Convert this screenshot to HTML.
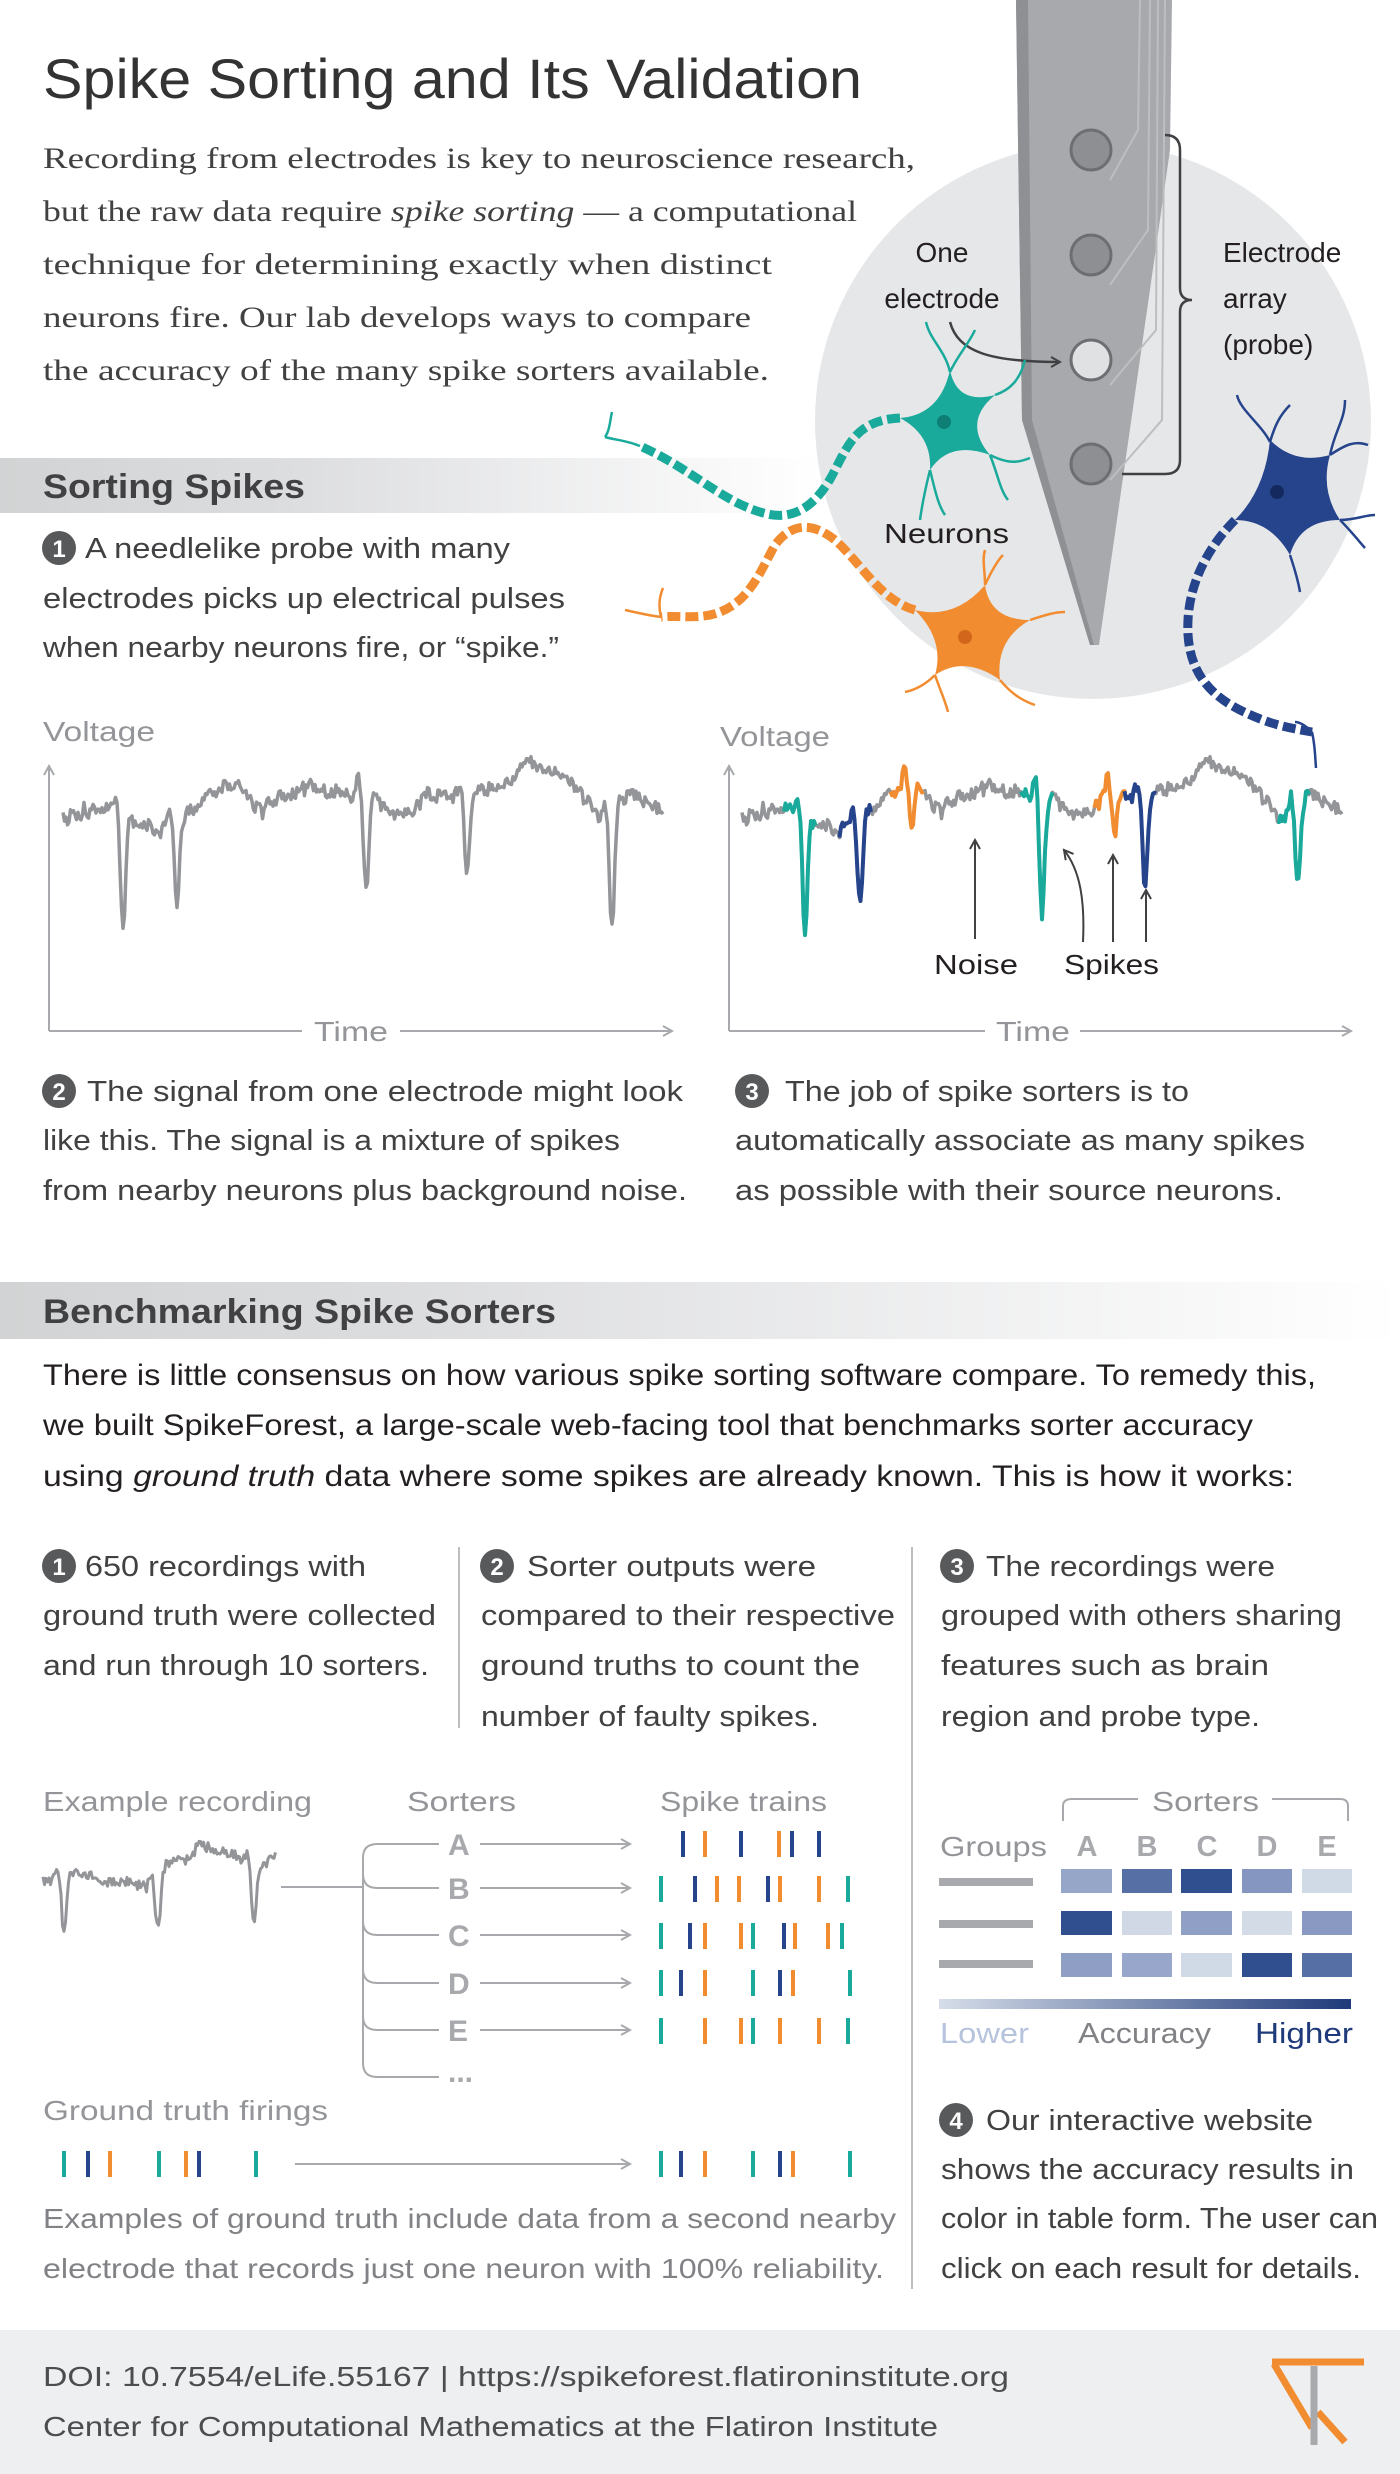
<!DOCTYPE html>
<html><head><meta charset="utf-8"><style>
html,body{margin:0;padding:0;background:#fff}
svg{display:block}
text{font-family:"Liberation Sans",sans-serif}
.s{font-family:"Liberation Serif",serif;fill:#414042;font-size:30px}
.b{fill:#414042;font-size:29px}
.g{fill:#939598;font-size:28px}
.k{fill:#231f20;font-size:28px}
.n{fill:#fff;font-size:24px;font-weight:bold;text-anchor:middle}
</style></head><body>
<svg id="sv" width="1400" height="2474" viewBox="0 0 1400 2474" xmlns="http://www.w3.org/2000/svg">
<defs>
<linearGradient id="band" x1="0" x2="1"><stop offset="0" stop-color="#d1d3d4"/><stop offset="0.35" stop-color="#dcdddf"/><stop offset="1" stop-color="#fff"/></linearGradient>
<linearGradient id="band2" x1="0" x2="1"><stop offset="0" stop-color="#d1d3d4"/><stop offset="0.3" stop-color="#dcdddf"/><stop offset="1" stop-color="#fff"/></linearGradient>
<linearGradient id="acc" x1="0" x2="1"><stop offset="0" stop-color="#d6dde9"/><stop offset="1" stop-color="#1f3a7a"/></linearGradient>
<marker id="ah" markerWidth="12" markerHeight="12" refX="10" refY="6" orient="auto" markerUnits="userSpaceOnUse"><path d="M1,1 L10,6 L1,11" fill="none" stroke="#a7a9ac" stroke-width="2"/></marker>
<marker id="ahd" markerWidth="12" markerHeight="12" refX="10" refY="6" orient="auto" markerUnits="userSpaceOnUse"><path d="M1,1 L10,6 L1,11" fill="none" stroke="#414042" stroke-width="2"/></marker>
</defs>

<!-- Sorting spikes band (behind neurons) -->
<rect x="0" y="458" width="820" height="55" fill="url(#band)"/>

<!-- circle background -->
<circle cx="1093" cy="421" r="278" fill="#e6e7e8"/>

<!-- probe -->
<polygon points="1016,0 1172,0 1170,150 1099,645 1090,645 1022,420" fill="#a7a9ac"/>
<polygon points="1016,0 1028,0 1032,420 1094,645 1090,645 1022,420" fill="#8e9093"/>
<path d="M1140,0 L1138,130 L1110,180 M1150,0 L1148,230 L1110,285 M1158,0 L1156,330 L1110,385 M1165,0 L1162,420 L1110,480" fill="none" stroke="#bcbec0" stroke-width="2"/>
<circle cx="1091" cy="150" r="20" fill="#8d8f92" stroke="#6d6e71" stroke-width="3"/>
<circle cx="1091" cy="255" r="20" fill="#8d8f92" stroke="#6d6e71" stroke-width="3"/>
<circle cx="1091" cy="360" r="20" fill="#e0e1e2" stroke="#6d6e71" stroke-width="3"/>
<circle cx="1091" cy="464" r="20" fill="#8d8f92" stroke="#6d6e71" stroke-width="3"/>
<!-- bracket -->
<path d="M1165,135 Q1180,135 1180,150 L1180,288 Q1180,300 1192,300 Q1180,300 1180,312 L1180,460 Q1180,474 1165,474 L1122,474" fill="none" stroke="#414042" stroke-width="2.5"/>
<path d="M950,322 C958,352 990,362 1060,362" fill="none" stroke="#414042" stroke-width="2.5" marker-end="url(#ahd)"/>
<text class="k" x="942" y="262" text-anchor="middle">One</text>
<text class="k" x="942" y="308" text-anchor="middle">electrode</text>
<text class="k" x="1223" y="262">Electrode</text>
<text class="k" x="1223" y="308">array</text>
<text class="k" x="1223" y="354">(probe)</text>
<text class="k" x="884" y="543" textLength="125" lengthAdjust="spacingAndGlyphs">Neurons</text>

<!-- teal neuron -->
<path d="M900,418 C860,420 850,440 835,470 C815,510 790,522 760,512 C720,500 690,468 640,446" fill="none" stroke="#1aaa9b" stroke-width="9" stroke-dasharray="13 5"/>
<path d="M640,446 C625,440 615,440 605,437 M605,437 C610,430 610,420 612,412" fill="none" stroke="#1aaa9b" stroke-width="2.5"/>
<path d="M900,418 Q940,415 950,370 Q957,405 995,395 Q962,422 990,455 Q950,440 930,470 Q932,435 900,418 Z" fill="#1aaa9b"/>
<circle cx="944" cy="422" r="7" fill="#0d7f74"/>
<path d="M950,372 C945,350 930,340 926,322 M950,372 C958,355 968,345 975,330 M995,395 C1010,390 1020,380 1025,360 M990,455 C1010,465 1020,462 1030,458 M990,455 C998,475 1000,490 1008,500 M930,470 C925,490 922,505 920,520 M930,470 C935,490 938,505 945,515" fill="none" stroke="#1aaa9b" stroke-width="2.5"/>

<!-- orange neuron -->
<path d="M915,610 C880,600 860,562 835,540 C810,520 790,525 775,545 C760,572 750,600 720,612 C700,620 680,615 661,617" fill="none" stroke="#f28c30" stroke-width="9" stroke-dasharray="13 5"/>
<path d="M661,617 C645,615 635,612 625,610 M661,617 C658,605 660,595 663,588" fill="none" stroke="#f28c30" stroke-width="2.5"/>
<path d="M915,610 Q955,620 985,585 Q990,620 1030,620 Q995,640 1000,680 Q965,655 935,675 Q945,640 915,610 Z" fill="#f28c30"/>
<circle cx="965" cy="637" r="7" fill="#d2661a"/>
<path d="M985,585 C985,570 982,560 985,550 M985,585 C992,570 998,560 1003,555 M1030,620 C1045,615 1055,612 1065,612 M1000,680 C1010,692 1020,700 1035,705 M935,675 C925,685 915,690 905,692 M935,675 C940,690 945,700 948,712" fill="none" stroke="#f28c30" stroke-width="2.5"/>

<!-- navy neuron -->
<path d="M1235,520 C1210,545 1190,580 1188,620 C1186,660 1200,690 1240,710 C1270,725 1290,728 1312,732" fill="none" stroke="#26448c" stroke-width="9" stroke-dasharray="13 5"/>
<path d="M1312,732 C1315,745 1315,755 1316,768 M1312,732 C1305,725 1300,722 1295,722" fill="none" stroke="#26448c" stroke-width="2.5"/>
<path d="M1235,520 Q1265,490 1270,440 Q1295,465 1330,455 Q1320,490 1340,520 Q1300,520 1290,555 Q1270,520 1235,520 Z" fill="#26448c"/>
<circle cx="1277" cy="492" r="7" fill="#142a5e"/>
<path d="M1270,442 C1262,425 1240,410 1237,395 M1270,442 C1275,425 1280,415 1290,405 M1330,455 C1335,430 1345,420 1345,400 M1330,455 C1345,445 1355,440 1368,445 M1340,520 C1355,520 1365,515 1375,515 M1340,520 C1350,530 1358,540 1365,548 M1290,555 C1295,570 1298,580 1300,592" fill="none" stroke="#26448c" stroke-width="2.5"/>

<!-- title -->
<text x="43" y="98" font-size="56" fill="#333" textLength="819" lengthAdjust="spacingAndGlyphs">Spike Sorting and Its Validation</text>
<text class="s" x="43" y="168" textLength="872" lengthAdjust="spacingAndGlyphs">Recording from electrodes is key to neuroscience research,</text>
<text class="s" x="43" y="221" textLength="814" lengthAdjust="spacingAndGlyphs">but the raw data require <tspan font-style="italic">spike sorting</tspan> — a computational</text>
<text class="s" x="43" y="274" textLength="729" lengthAdjust="spacingAndGlyphs">technique for determining exactly when distinct</text>
<text class="s" x="43" y="327" textLength="708" lengthAdjust="spacingAndGlyphs">neurons fire. Our lab develops ways to compare</text>
<text class="s" x="43" y="380" textLength="726" lengthAdjust="spacingAndGlyphs">the accuracy of the many spike sorters available.</text>

<text x="43" y="498" font-size="34" font-weight="bold" fill="#414042" textLength="262" lengthAdjust="spacingAndGlyphs">Sorting Spikes</text>
<circle cx="59" cy="548" r="17" fill="#58595b"/><text class="n" x="59" y="557">1</text>
<text class="b" x="85" y="558" textLength="425" lengthAdjust="spacingAndGlyphs">A needlelike probe with many</text>
<text class="b" x="43" y="608" textLength="522" lengthAdjust="spacingAndGlyphs">electrodes picks up electrical pulses</text>
<text class="b" x="43" y="657" textLength="516" lengthAdjust="spacingAndGlyphs">when nearby neurons fire, or “spike.”</text>

<!-- charts -->
<text class="g" x="43" y="741" textLength="112" lengthAdjust="spacingAndGlyphs">Voltage</text>
<text class="g" x="720" y="746" textLength="110" lengthAdjust="spacingAndGlyphs">Voltage</text>
<g fill="none" stroke="#a7a9ac" stroke-width="2">
<path d="M49,1031 L49,766" marker-end="url(#ah)"/>
<path d="M49,1031 L302,1031"/><path d="M400,1031 L672,1031" marker-end="url(#ah)"/>
<path d="M729,1031 L729,766" marker-end="url(#ah)"/>
<path d="M729,1031 L985,1031"/><path d="M1080,1031 L1351,1031" marker-end="url(#ah)"/>
</g>
<text class="g" x="314" y="1041" textLength="74" lengthAdjust="spacingAndGlyphs">Time</text>
<text class="g" x="996" y="1041" textLength="74" lengthAdjust="spacingAndGlyphs">Time</text>
<g id="sig"></g>
<g fill="none" stroke="#414042" stroke-width="2">
<path d="M975,939 L975,840" marker-end="url(#ahd)"/>
<path d="M1083,942 C1085,900 1080,870 1064,850" marker-end="url(#ahd)"/>
<path d="M1113,942 L1113,855" marker-end="url(#ahd)"/>
<path d="M1146,942 L1146,890" marker-end="url(#ahd)"/>
</g>
<text class="k" x="934" y="974" textLength="84" lengthAdjust="spacingAndGlyphs">Noise</text>
<text class="k" x="1064" y="974" textLength="95" lengthAdjust="spacingAndGlyphs">Spikes</text>

<circle cx="59" cy="1091" r="17" fill="#58595b"/><text class="n" x="59" y="1100">2</text>
<text class="b" x="87" y="1101" textLength="596" lengthAdjust="spacingAndGlyphs">The signal from one electrode might look</text>
<text class="b" x="43" y="1150" textLength="577" lengthAdjust="spacingAndGlyphs">like this. The signal is a mixture of spikes</text>
<text class="b" x="43" y="1200" textLength="644" lengthAdjust="spacingAndGlyphs">from nearby neurons plus background noise.</text>
<circle cx="752" cy="1091" r="17" fill="#58595b"/><text class="n" x="752" y="1100">3</text>
<text class="b" x="785" y="1101" textLength="404" lengthAdjust="spacingAndGlyphs">The job of spike sorters is to</text>
<text class="b" x="735" y="1150" textLength="570" lengthAdjust="spacingAndGlyphs">automatically associate as many spikes</text>
<text class="b" x="735" y="1200" textLength="548" lengthAdjust="spacingAndGlyphs">as possible with their source neurons.</text>

<!-- Benchmarking -->
<rect x="0" y="1282" width="1400" height="57" fill="url(#band2)"/>
<text x="43" y="1323" font-size="34" font-weight="bold" fill="#414042" textLength="513" lengthAdjust="spacingAndGlyphs">Benchmarking Spike Sorters</text>
<text x="43" y="1385" font-size="30" fill="#231f20" textLength="1273" lengthAdjust="spacingAndGlyphs">There is little consensus on how various spike sorting software compare. To remedy this,</text>
<text x="43" y="1435" font-size="30" fill="#231f20" textLength="1210" lengthAdjust="spacingAndGlyphs">we built SpikeForest, a large-scale web-facing tool that benchmarks sorter accuracy</text>
<text x="43" y="1486" font-size="30" fill="#231f20" textLength="1251" lengthAdjust="spacingAndGlyphs">using <tspan font-style="italic">ground truth</tspan> data where some spikes are already known. This is how it works:</text>

<line x1="459" y1="1547" x2="459" y2="1728" stroke="#bcbec0" stroke-width="2"/>
<line x1="912" y1="1547" x2="912" y2="2289" stroke="#bcbec0" stroke-width="2"/>

<circle cx="59" cy="1566" r="17" fill="#58595b"/><text class="n" x="59" y="1575">1</text>
<text class="b" x="85" y="1576" textLength="281" lengthAdjust="spacingAndGlyphs">650 recordings with</text>
<text class="b" x="43" y="1625" textLength="393" lengthAdjust="spacingAndGlyphs">ground truth were collected</text>
<text class="b" x="43" y="1675" textLength="386" lengthAdjust="spacingAndGlyphs">and run through 10 sorters.</text>
<circle cx="497" cy="1566" r="17" fill="#58595b"/><text class="n" x="497" y="1575">2</text>
<text class="b" x="527" y="1576" textLength="289" lengthAdjust="spacingAndGlyphs">Sorter outputs were</text>
<text class="b" x="481" y="1625" textLength="414" lengthAdjust="spacingAndGlyphs">compared to their respective</text>
<text class="b" x="481" y="1675" textLength="379" lengthAdjust="spacingAndGlyphs">ground truths to count the</text>
<text class="b" x="481" y="1726" textLength="338" lengthAdjust="spacingAndGlyphs">number of faulty spikes.</text>
<circle cx="957" cy="1566" r="17" fill="#58595b"/><text class="n" x="957" y="1575">3</text>
<text class="b" x="986" y="1576" textLength="289" lengthAdjust="spacingAndGlyphs">The recordings were</text>
<text class="b" x="941" y="1625" textLength="401" lengthAdjust="spacingAndGlyphs">grouped with others sharing</text>
<text class="b" x="941" y="1675" textLength="328" lengthAdjust="spacingAndGlyphs">features such as brain</text>
<text class="b" x="941" y="1726" textLength="319" lengthAdjust="spacingAndGlyphs">region and probe type.</text>

<!-- diagram -->
<text class="g" x="43" y="1811" textLength="269" lengthAdjust="spacingAndGlyphs">Example recording</text>
<text class="g" x="407" y="1811" textLength="109" lengthAdjust="spacingAndGlyphs">Sorters</text>
<text class="g" x="660" y="1811" textLength="167" lengthAdjust="spacingAndGlyphs">Spike trains</text>
<g fill="none" stroke="#a7a9ac" stroke-width="2">
<path d="M281,1887 L363,1887"/>
<path d="M363,1858 L363,2063"/>
<path d="M363,1858 Q363,1844 377,1844 L439,1844"/>
<path d="M363,1874 Q363,1888 377,1888 L439,1888"/>
<path d="M363,1921 Q363,1935 377,1935 L439,1935"/>
<path d="M363,1969 Q363,1983 377,1983 L439,1983"/>
<path d="M363,2016 Q363,2030 377,2030 L439,2030"/>
<path d="M363,2063 Q363,2077 377,2077 L439,2077"/>
<path d="M480,1844 L630,1844" marker-end="url(#ah)"/>
<path d="M480,1888 L630,1888" marker-end="url(#ah)"/>
<path d="M480,1935 L630,1935" marker-end="url(#ah)"/>
<path d="M480,1983 L630,1983" marker-end="url(#ah)"/>
<path d="M480,2030 L630,2030" marker-end="url(#ah)"/>
<path d="M295,2164 L630,2164" marker-end="url(#ah)"/>
</g>
<g font-size="30" font-weight="bold" fill="#a7a9ac">
<text x="448" y="1855">A</text><text x="448" y="1899">B</text><text x="448" y="1946">C</text><text x="448" y="1994">D</text><text x="448" y="2041">E</text><text x="448" y="2082">...</text>
</g>
<g id="ticks"></g>

<text class="g" x="43" y="2120" textLength="285" lengthAdjust="spacingAndGlyphs">Ground truth firings</text>
<text class="g" x="43" y="2228" textLength="853" lengthAdjust="spacingAndGlyphs" style="fill:#808285">Examples of ground truth include data from a second nearby</text>
<text class="g" x="43" y="2278" textLength="841" lengthAdjust="spacingAndGlyphs" style="fill:#808285">electrode that records just one neuron with 100% reliability.</text>

<!-- heatmap -->
<path d="M1063,1821 L1063,1806 Q1063,1799 1072,1799 L1138,1799 M1272,1799 L1340,1799 Q1348,1799 1348,1806 L1348,1821" fill="none" stroke="#a7a9ac" stroke-width="2"/>
<text class="g" x="1152" y="1811" textLength="107" lengthAdjust="spacingAndGlyphs">Sorters</text>
<text class="g" x="940" y="1856" textLength="107" lengthAdjust="spacingAndGlyphs">Groups</text>
<g font-size="29" font-weight="bold" fill="#a7a9ac" text-anchor="middle">
<text x="1087" y="1856">A</text><text x="1147" y="1856">B</text><text x="1207" y="1856">C</text><text x="1267" y="1856">D</text><text x="1327" y="1856">E</text>
</g>
<g fill="#a7a9ac"><rect x="939" y="1878" width="94" height="8"/><rect x="939" y="1920" width="94" height="8"/><rect x="939" y="1960" width="94" height="8"/></g>
<g>
<rect x="1061" y="1869" width="51" height="24" fill="#96a6c9"/><rect x="1122" y="1869" width="50" height="24" fill="#5670a6"/><rect x="1181" y="1869" width="51" height="24" fill="#2f4f8f"/><rect x="1242" y="1869" width="50" height="24" fill="#8597c0"/><rect x="1302" y="1869" width="50" height="24" fill="#d0d9e6"/>
<rect x="1061" y="1911" width="51" height="24" fill="#2f4f8f"/><rect x="1122" y="1911" width="50" height="24" fill="#cfd8e4"/><rect x="1181" y="1911" width="51" height="24" fill="#8f9fc5"/><rect x="1242" y="1911" width="50" height="24" fill="#d3dbe6"/><rect x="1302" y="1911" width="50" height="24" fill="#8999c2"/>
<rect x="1061" y="1953" width="51" height="24" fill="#8e9ec5"/><rect x="1122" y="1953" width="50" height="24" fill="#97a6ca"/><rect x="1181" y="1953" width="51" height="24" fill="#d0d9e6"/><rect x="1242" y="1953" width="50" height="24" fill="#2f4f8f"/><rect x="1302" y="1953" width="50" height="24" fill="#5670a6"/>
</g>
<rect x="939" y="1999" width="412" height="10" fill="url(#acc)"/>
<text x="940" y="2043" font-size="29" fill="#b6c3dd" textLength="89" lengthAdjust="spacingAndGlyphs">Lower</text>
<text x="1078" y="2043" font-size="29" fill="#808285" textLength="133" lengthAdjust="spacingAndGlyphs">Accuracy</text>
<text x="1255" y="2043" font-size="29" fill="#1f3a7a" textLength="98" lengthAdjust="spacingAndGlyphs">Higher</text>

<circle cx="956" cy="2120" r="17" fill="#58595b"/><text class="n" x="956" y="2129">4</text>
<text class="b" x="986" y="2130" textLength="327" lengthAdjust="spacingAndGlyphs">Our interactive website</text>
<text class="b" x="941" y="2179" textLength="413" lengthAdjust="spacingAndGlyphs">shows the accuracy results in</text>
<text class="b" x="941" y="2228" textLength="437" lengthAdjust="spacingAndGlyphs">color in table form. The user can</text>
<text class="b" x="941" y="2278" textLength="420" lengthAdjust="spacingAndGlyphs">click on each result for details.</text>

<!-- footer -->
<rect x="0" y="2330" width="1400" height="144" fill="#eeeff0"/>
<text x="43" y="2386" font-size="28" fill="#4d4d4f" textLength="966" lengthAdjust="spacingAndGlyphs">DOI: 10.7554/eLife.55167  |  https://spikeforest.flatironinstitute.org</text>
<text x="43" y="2436" font-size="28" fill="#4d4d4f" textLength="895" lengthAdjust="spacingAndGlyphs">Center for Computational Mathematics at the Flatiron Institute</text>
<path d="M1272,2362 L1364,2362 M1274,2364 L1312,2428 M1318,2412 L1345,2442" fill="none" stroke="#f28c30" stroke-width="7"/>
<path d="M1314,2366 L1314,2445" stroke="#a7a9ac" stroke-width="7"/>
</svg>
<script>
(function(){
var NS="http://www.w3.org/2000/svg";
var sv=document.getElementById("sig");
function mk(tag,a,p){var e=document.createElementNS(NS,tag);for(var k in a)e.setAttribute(k,a[k]);(p||sv).appendChild(e);return e;}
function rng(seed){var s=seed;return function(){s=(s*1103515245+12345)%2147483648;return s/2147483648;};}
function build(x0,x1,y0,amp,spikes,seed){
 var r=rng(seed),pts=[],w=0;
 for(var x=x0;x<=x1;x+=1.5){
  var t=x-x0; w+= (r()-0.5)*2.5; w*=0.95;
  var y=y0+amp*(13*Math.sin(t/45)+8*Math.sin(t/17+2)+8*Math.sin(t/97+1))+w*amp*3.5+(r()-0.5)*12*amp;
  for(var i=0;i<spikes.length;i++){var d=x-spikes[i][0];if(Math.abs(d)<25){y+=spikes[i][1]*Math.exp(-d*d/(2*2.4*2.4));y-=16*amp*Math.exp(-(d+7)*(d+7)/10);}}
  pts.push([x,y]);
 }
 return pts;}
function pl(pts,col,sw,p){mk("polyline",{points:pts.map(function(q){return q[0].toFixed(1)+","+q[1].toFixed(1)}).join(" "),fill:"none",stroke:col,"stroke-width":sw,"stroke-linejoin":"round"},p);}
var L=[[123,118],[177,80],[366,90],[467,75],[612,118]];
pl(build(63,663,800,1,L,7),"#939598",3.5);
var T="#1aaa9b",N="#26448c",O="#f28c30";
var R=[[805,118,T],[860,85,N],[912,40,O],[1042,118,T],[1115,35,O],[1145,88,N],[1298,85,T]];
var rp=build(742,1342,800,1,R,7);
pl(rp,"#939598",3.5);
R.forEach(function(s){pl(rp.filter(function(q){return q[0]>s[0]-22&&q[0]<s[0]+12;}),s[2],4);});
pl(build(43,276,1868,0.8,[[64,50],[158,50],[254,50]],3),"#939598",3);
var tg=document.getElementById("ticks");
function row(y,arr){arr.forEach(function(a){mk("rect",{x:a[0]-2,y:y-13,width:4,height:26,fill:a[1]},tg);});}
row(1844,[[683,N],[705,O],[741,N],[779,O],[792,N],[819,N]]);
row(1889,[[661,T],[695,N],[717,O],[739,O],[768,N],[780,O],[819,O],[848,T]]);
row(1936,[[661,T],[690,N],[705,O],[741,O],[753,T],[784,N],[795,O],[828,O],[842,T]]);
var D=[[661,T],[681,N],[705,O],[753,T],[780,N],[793,O],[850,T]];
row(1983,D);
row(2031,[[661,T],[705,O],[741,O],[753,T],[780,O],[819,O],[848,T]]);
row(2164,D);
row(2164,[[64,T],[88,N],[110,O],[159,T],[186,O],[199,N],[256,T]]);
})();
</script>
</body></html>
